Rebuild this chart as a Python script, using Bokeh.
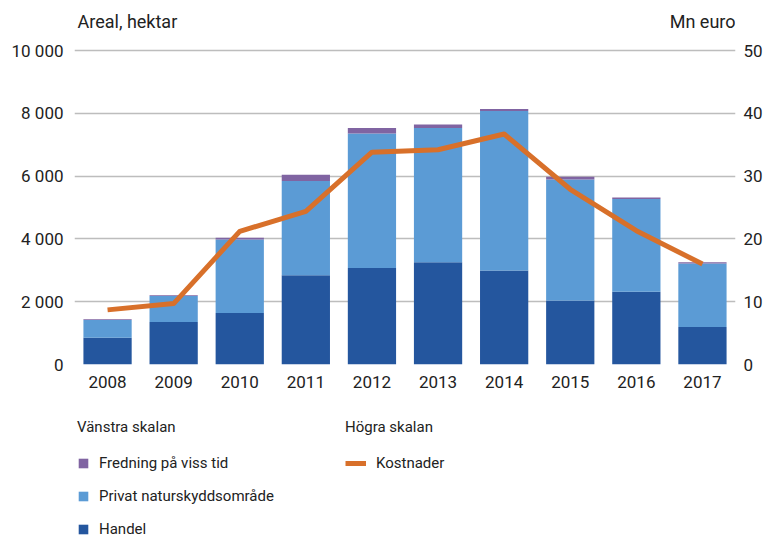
import numpy as np
from bokeh.plotting import figure
from bokeh.layouts import column
from bokeh.models import (Range1d, FactorRange, LinearAxis, Legend, LegendItem, Label,
                          CustomJSTickFormatter, FixedTicker, ColumnDataSource)
from bokeh.embed import file_html
from bokeh.resources import INLINE

years = ["2008", "2009", "2010", "2011", "2012", "2013", "2014", "2015", "2016", "2017"]
handel = [855, 1355, 1640, 2845, 3070, 3260, 2990, 2035, 2320, 1195]
privat = [560, 830, 2340, 2995, 4290, 4270, 5080, 3860, 2950, 2020]
fredning = [30, 20, 60, 200, 170, 110, 70, 85, 50, 45]
kostnader = [8.7, 9.7, 21.2, 24.4, 33.8, 34.2, 36.7, 27.9, 21.3, 16.0]

left_ticks = [0, 2000, 4000, 6000, 8000, 10000]
right_ticks = [0, 10, 20, 30, 40, 50]

series_names = ["Handel", "Privat naturskyddsområde", "Fredning på viss tid"]
legend_left_title = "Vänstra skalan"
legend_right_title = "Högra skalan"
line_name = "Kostnader"
colors = ["#24569e", "#5b9bd5", "#8064a2"]
line_color = "#d8702a"

FONT = "Roboto"
TXT = "#222222"

# frame: 0 at y=364, 10000 at y=50 -> extend top of frame to y=10
TOP = 10000 * (364 - 10) / (364 - 50)

p = figure(x_range=FactorRange(*years), y_range=Range1d(0, TOP),
           width=765, height=400, output_backend="svg", toolbar_location=None,
           min_border_left=74, min_border_right=30, min_border_top=10, min_border_bottom=36)
p.extra_y_ranges = {"right": Range1d(0, TOP / 200.0)}
p.outline_line_color = None
p.xgrid.grid_line_color = None
p.ygrid.grid_line_color = "#bdbdbd"
p.ygrid.grid_line_width = 1.5
p.ygrid.ticker = FixedTicker(ticks=left_ticks)

data = {"years": years, "Handel": handel, "Privat naturskyddsområde": privat,
        "Fredning på viss tid": fredning}
rs = p.vbar_stack(series_names, x="years", width=0.73, source=data,
                  color=colors, line_color=None)
ln = p.line(years, kostnader, y_range_name="right", line_color=line_color,
            line_width=5, line_join="round")

fmt = CustomJSTickFormatter(code="return tick.toString().replace(/\\B(?=(\\d{3})+(?!\\d))/g, ' ');")

ya = p.yaxis[0]
ya.ticker = FixedTicker(ticks=left_ticks)
ya.formatter = fmt
ry = LinearAxis(y_range_name="right", ticker=FixedTicker(ticks=right_ticks))
p.add_layout(ry, "right")
xa = p.xaxis[0]

for ax in [ya, ry, xa]:
    ax.axis_line_color = None
    ax.major_tick_line_color = None
    ax.minor_tick_line_color = None
    ax.major_tick_out = 0
    ax.major_tick_in = 0
    ax.minor_tick_out = 0
    ax.minor_tick_in = 0
    ax.major_label_text_font = FONT
    ax.major_label_text_font_size = "17px"
    ax.major_label_text_color = TXT
ya.major_label_standoff = 11
ry.major_label_standoff = 8
xa.major_label_standoff = 11

p.add_layout(Label(x=3, y=333, x_units="screen", y_units="screen", text="Areal, hektar",
                   text_font=FONT, text_font_size="18px", text_color=TXT,
                   text_baseline="bottom", text_align="left"))
p.add_layout(Label(x=len(years), y=333, x_units="data", y_units="screen", text="Mn euro",
                   text_font=FONT, text_font_size="18px", text_color=TXT,
                   text_baseline="bottom", text_align="right"))

# legend panel
q = figure(width=765, height=137, output_backend="svg", toolbar_location=None,
           x_axis_type=None, y_axis_type=None, x_range=Range1d(0, 1), y_range=Range1d(0, 1),
           min_border=0)
q.outline_line_color = None
q.grid.grid_line_color = None
nan_src = {"x": np.array([np.nan]), "top": np.array([np.nan])}
lr = [q.vbar(x="x", top="top", width=0.5, source=ColumnDataSource(dict(nan_src)),
             color=c, line_color=None) for c in colors]
ll = q.line(x="x", y="top", source=ColumnDataSource(dict(nan_src)),
            line_color=line_color, line_width=5)


def style(lg, gw):
    lg.border_line_alpha = 0
    lg.background_fill_alpha = 0
    lg.padding = 0
    lg.margin = 0
    lg.spacing = 9
    lg.label_height = 24
    lg.glyph_height = 12
    lg.glyph_width = gw
    lg.label_standoff = 10
    lg.label_text_font = FONT
    lg.label_text_font_size = "15px"
    lg.label_text_color = TXT
    lg.title_text_font = FONT
    lg.title_text_font_size = "15px"
    lg.title_text_font_style = "normal"
    lg.title_text_color = TXT
    lg.title_standoff = 15
    lg.label_text_baseline = "middle"


leg1 = Legend(items=[LegendItem(label=series_names[2], renderers=[lr[2]]),
                     LegendItem(label=series_names[1], renderers=[lr[1]]),
                     LegendItem(label=series_names[0], renderers=[lr[0]])],
              title=legend_left_title, location=(3, -4))
style(leg1, 12)
leg2 = Legend(items=[LegendItem(label=line_name, renderers=[ll])],
              title=legend_right_title, location=(271, -4 + 66))
style(leg2, 21)
q.add_layout(leg1, "center")
q.add_layout(leg2, "center")

open("out.html", "w").write(file_html(column(p, q, spacing=0), INLINE))
